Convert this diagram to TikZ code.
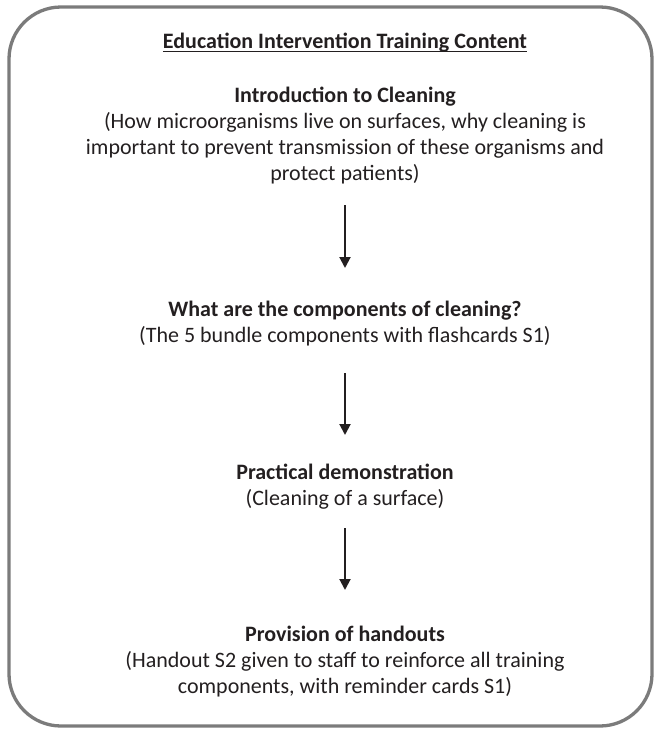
\documentclass[tikz,border=0pt]{standalone}
\usepackage{fontspec}
\setmainfont{Carlito}
\usetikzlibrary{arrows.meta}
\definecolor{framegray}{HTML}{7B7B7B}
\definecolor{ink}{HTML}{231F20}
\begin{document}
\begin{tikzpicture}[x=1pt,y=-1pt,
  frame/.style={draw=framegray, line width=3.3pt, rounded corners=52pt},
  titletext/.style={font=\fontsize{22}{26}\selectfont\bfseries, text=ink, inner sep=0pt, anchor=base},
  block/.style={font=\fontsize{22}{26}\selectfont, text=ink, align=center, inner sep=0pt, anchor=north},
  flow/.style={draw=ink, line width=2pt, -{Triangle[length=11pt,width=11pt]}}]
\useasboundingbox (0,0) rectangle (655,729);
\draw[frame] (9,7) rectangle (652,726);
\node[titletext] (t) at (345,48) {Education Intervention Training Content};
\draw[ink, line width=1.5pt] ([yshift=-3.5pt]t.base west) -- ([yshift=-3.5pt]t.base east);
\node[block] (b1) at (345,86.5) {\textbf{Introduction to Cleaning}\\(How microorganisms live on surfaces, why cleaning is\\important to prevent transmission of these organisms and\\protect patients)};
\node[block] (b2) at (345,300.5) {\textbf{What are the components of cleaning?}\\(The 5 bundle components with flashcards S1)};
\node[block] (b3) at (345,463.5) {\textbf{Practical demonstration}\\(Cleaning of a surface)};
\node[block] (b4) at (345,625.5) {\textbf{Provision of handouts}\\(Handout S2 given to staff to reinforce all training\\components, with reminder cards S1)};
\coordinate (a1s) at (345,205);
\coordinate (a1e) at (345,268);
\coordinate (a2s) at (345,373);
\coordinate (a2e) at (345,435);
\coordinate (a3s) at (345,528);
\coordinate (a3e) at (345,590);
\draw[flow] (a1s) -- (a1e);
\draw[flow] (a2s) -- (a2e);
\draw[flow] (a3s) -- (a3e);
\end{tikzpicture}
\end{document}
